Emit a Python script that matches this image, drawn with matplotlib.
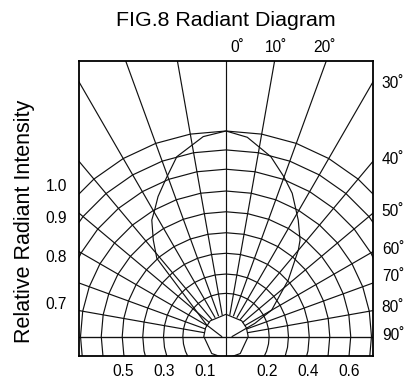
import matplotlib.pyplot as plt
import numpy as np

plt.rcParams['font.family'] = ['Liberation Sans', 'DejaVu Sans']

# Radiation pattern: angle off axis (deg) and relative radiant intensity
pattern_angle = [-90, -59.2, -41.5, -37.0, -32.5, -29.4, -25.9, -20.7, -15.3, -6.5, 0,
                 6.1, 14.0, 19.9, 24.8, 28.5, 31.8, 37.5, 39.9, 47.8, 59.9, 65.5, 90]
pattern_intensity = [0.021, 0.109, 0.508, 0.588, 0.672, 0.707, 0.757, 0.823, 0.907, 0.979, 1.0,
                     0.975, 0.902, 0.827, 0.768, 0.710, 0.667, 0.592, 0.549, 0.409, 0.257, 0.155, 0.03]

# Polar grid
spoke_angles = list(range(-90, 91, 10))
ring_radius = [0.108, 0.21, 0.304, 0.405, 0.505, 0.607, 0.708, 0.814, 0.908, 1.0]
inner_ring_angles = [-180, -140, -90, -67, -45, 0, 45, 67, 90, 140, 180]

# Axis annotations
intensity_labels = ['1.0', '0.9', '0.8', '0.7']
intensity_label_pos = [0.737, 0.583, 0.392, 0.162]
width_values = [-0.5, -0.3, -0.1, 0.2, 0.4, 0.6]
top_angles = [0, 10, 20]
top_angle_x = [0.0195, 0.190, 0.423]
side_angles = [30, 40, 50, 60, 70, 80, 90]
side_angle_y = [1.232, 0.859, 0.607, 0.421, 0.291, 0.140, 0.004]


def to_xy(angle_deg, r):
    a = np.radians(np.asarray(angle_deg, dtype=float))
    r = np.asarray(r, dtype=float)
    return r * np.sin(a), r * np.cos(a)


W, H = 416, 381
fig = plt.figure(figsize=(W / 100, H / 100), dpi=100)
ax = fig.add_axes([79 / W, 1 - 355.7 / H, 293.7 / W, 294.7 / H])
ax.set_xlim(-0.7153, 0.7139)
ax.set_ylim(-0.0934, 1.3406)

lc = '#111111'
lw = 0.85
fs = 11.2

# concentric rings (polygons)
for i, r in enumerate(ring_radius):
    angs = inner_ring_angles if i == 0 else np.arange(-180, 181, 10)
    x, y = to_xy(angs, r)
    ax.plot(x, y, color=lc, lw=lw)

# spokes
for a in spoke_angles:
    if a == 0:
        ax.axvline(0, color=lc, lw=lw)
    elif abs(a) == 90:
        ax.axhline(0, color=lc, lw=lw)
    else:
        x, y = to_xy([a, a], [ring_radius[0], 2.0])
        ax.plot(x, y, color=lc, lw=lw)

# radiation pattern
px, py = to_xy(pattern_angle, pattern_intensity)
ax.plot(px, py, color=lc, lw=lw)

for s in ax.spines.values():
    s.set_linewidth(1.3)
    s.set_color('black')

ax.set_xticks(width_values)
ax.set_xticklabels([f'{abs(v):.1f}' for v in width_values])
ax.set_yticks(intensity_label_pos)
ax.set_yticklabels(intensity_labels)
ax.tick_params(length=0, labelsize=fs, colors='black')
ax.tick_params(axis='x', pad=6.0)
ax.tick_params(axis='y', pad=8.5)

for a, x in zip(top_angles, top_angle_x):
    ax.text(x, 1.404, f'{a}˚', ha='left', va='center', fontsize=fs, clip_on=False)
for a, y in zip(side_angles, side_angle_y):
    ax.text(0.758, y, f'{a}˚', ha='left', va='center', fontsize=fs, clip_on=False)

fig.text(226 / W, 1 - 20 / H, 'FIG.8 Radiant Diagram', ha='center', va='center', fontsize=15.4)
fig.text(25 / W, 1 - 221 / H, 'Relative Radiant Intensity', ha='center', va='center',
         rotation=90, fontsize=15.5)

fig.savefig('out.png', dpi=100)
